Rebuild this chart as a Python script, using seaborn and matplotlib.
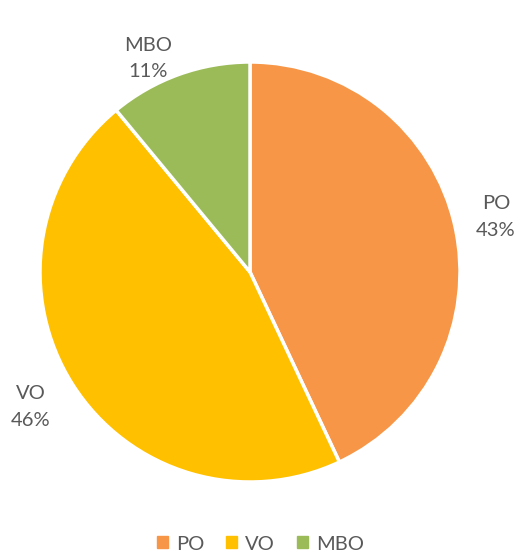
import matplotlib
matplotlib.use("Agg")
import matplotlib.pyplot as plt
import seaborn as sns

# data
categories = ["PO", "VO", "MBO"]
shares = [43, 46, 11]
colors = ["#F79646", "#FFC000", "#9BBB59"]

sns.set_theme(style="white")
plt.rcParams["font.family"] = ["Lato", "DejaVu Sans"]
sns.set_palette(colors)

fig = plt.figure(figsize=(5.21, 5.54), dpi=100)
# pie centre ~ (250, 272) px, radius ~210 px
ax = fig.add_axes([40 / 521, (554 - 272 - 210) / 554, 420 / 521, 420 / 554])

labels = [f"{c}\n{v}%" for c, v in zip(categories, shares)]
wedges, texts = ax.pie(
    shares,
    labels=labels,
    colors=sns.color_palette(colors),
    startangle=90,
    counterclock=False,
    labeldistance=1.2,
    wedgeprops=dict(edgecolor="white", linewidth=2.5),
    textprops=dict(color="#595959", fontsize=14.5, ha="center", va="center", linespacing=1.65),
)
for t in texts:
    t.set_horizontalalignment("center")
# MBO label sits a bit closer in the original
x, y = texts[2].get_position()
texts[2].set_position((x * 0.95 - 0.1, y * 0.9))
x, y = texts[1].get_position()
texts[1].set_position((x - 0.03, y))
ax.set_xlim(-1, 1)
ax.set_ylim(-1, 1)
ax.set_aspect("equal")

handles = [plt.Rectangle((0, 0), 1, 1, color=c) for c in colors]
fig.legend(handles, categories, loc="center", bbox_to_anchor=(0.5, 10 / 554),
           ncol=3, frameon=False, handlelength=0.55, handleheight=0.55,
           handletextpad=0.4, columnspacing=1.1,
           prop=dict(size=14.5), labelcolor="#595959")

fig.savefig("out.png", dpi=100, facecolor="white")
